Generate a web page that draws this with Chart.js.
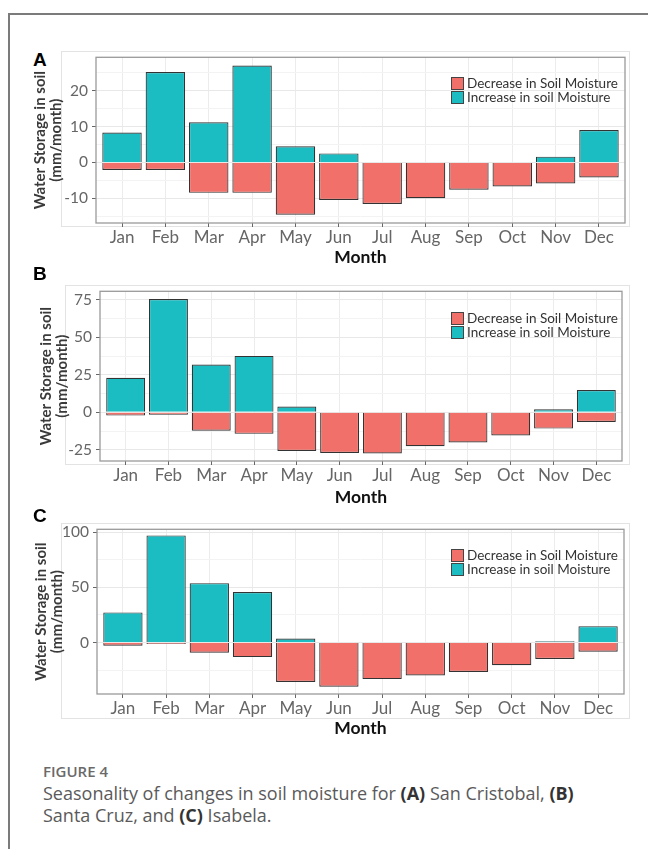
<!DOCTYPE html>
<html lang="en">
<head>
<meta charset="utf-8">
<title>Figure 4 - Seasonality of changes in soil moisture</title>
<script src="https://cdn.jsdelivr.net/npm/chart.js@4.4.1/dist/chart.umd.min.js"></script>
<style>
  html, body { margin: 0; padding: 0; background: #fff; }
  body { position: relative; width: 648px; height: 849px; overflow: hidden; font-family: Lato, "Open Sans", sans-serif; }
  .frame { position: absolute; left: 8px; top: 13px; width: 700px; height: 900px;
           border-left: 2px solid #7b7b7b; border-top: 2px solid #7b7b7b; }
  .imgbox { position: absolute; border: 1px solid #e3e3e3; box-sizing: border-box; }
  .letter { position: absolute; left: 33px; font: bold 19px "Liberation Sans", Arial, sans-serif; line-height: 1; color: #000; }
  .wrap { position: absolute; }
  .legend { position: absolute; font-size: 13.5px; line-height: 13px; color: #333; }
  .legend .row { display: flex; align-items: center; height: 13.5px; white-space: nowrap; }
  .legend .sw { width: 11px; height: 11px; border: 1px solid #444; margin-right: 3px; }
  .caption { position: absolute; left: 43px; top: 762px; font-family: "Open Sans", sans-serif; color: #5a5a5a; }
  .caption .fig { font-size: 15px; line-height: 18px; font-weight: 600; color: #6a6a6a; }
  .caption .txt { margin-top: 2px; font-size: 18px; line-height: 22px; }
  .caption b { color: #333; }
</style>
</head>
<body>
<div class="frame"></div>
<div id="figure"></div>
<div class="caption">
  <div class="fig">FIGURE 4</div>
  <div class="txt">Seasonality of changes in soil moisture for <b>(A)</b> San Cristobal, <b>(B)</b><br>Santa Cruz, and <b>(C)</b> Isabela.</div>
</div>
<script>
// =============================================================
// Data (mm/month)
// =============================================================
const months = ["Jan", "Feb", "Mar", "Apr", "May", "Jun", "Jul", "Aug", "Sep", "Oct", "Nov", "Dec"];
const seriesNames = ["Decrease in Soil Moisture", "Increase in soil Moisture"];
const seriesColors = ["#f1706a", "#1cbdc2"];

// (A) San Cristobal
const decreaseA = [-2.1, -2.1, -8.5, -8.5, -14.6, -10.5, -11.6, -10.0, -7.6, -6.7, -5.9, -4.2];
const increaseA = [8.3, 25.2, 11.2, 27.0, 4.5, 2.5, 0, 0, 0, 0, 1.6, 9.0];
const yTicksA = [-10, 0, 10, 20];

// (B) Santa Cruz
const decreaseB = [-2.2, -1.7, -12.3, -14.4, -25.8, -27.1, -27.5, -22.7, -20.1, -15.5, -10.9, -6.5];
const increaseB = [23.0, 75.5, 31.8, 37.6, 3.9, 0, 0, 0, 0, 0, 2.0, 14.8];
const yTicksB = [-25, 0, 25, 50, 75];

// (C) Isabela
const decreaseC = [-2.9, -1.2, -9.1, -13.1, -35.7, -39.9, -33.0, -29.8, -26.5, -20.5, -14.9, -8.3];
const increaseC = [27.3, 97.0, 53.8, 45.8, 3.6, 0, 0, 0, 0, 0, 1.2, 14.9];
const yTicksC = [0, 50, 100];

// =============================================================
// Panel layout (pixel positions of each plot panel on the page)
// =============================================================
const panels = [
  { letter: "A", dec: decreaseA, inc: increaseA, ticks: yTicksA, yMin: -16.9, yMax: 29.3,
    top: 54, bottom: 223, left: 96, right: 625, axisH: 45, titleX: 40, letterTop: 49.5,
    box: [61, 51, 630, 227], legendTop: 77 },
  { letter: "B", dec: decreaseB, inc: increaseB, ticks: yTicksB, yMin: -32.5, yMax: 80.7,
    top: 288, bottom: 461, left: 100, right: 622, axisH: 47, titleX: 46, letterTop: 264,
    box: [65, 285, 630, 465], legendTop: 312 },
  { letter: "C", dec: decreaseC, inc: increaseC, ticks: yTicksC, yMin: -46.5, yMax: 102.5,
    top: 526, bottom: 694, left: 97, right: 624, axisH: 45, titleX: 41, letterTop: 505.5,
    box: [61, 523, 630, 719], legendTop: 549 },
];

const WRAP_LEFT = 20;
const WRAP_RIGHT = 635;
const PAD_TOP = 10;
const TITLE_SIZE = 15;

Chart.defaults.font.family = "Lato, 'Open Sans', sans-serif";

// ggplot-style panel border drawn over the bars
const panelBorder = {
  id: "panelBorder",
  afterDatasetsDraw(chart) {
    const { ctx, chartArea: a } = chart;
    ctx.save();
    ctx.strokeStyle = "#9a9a9a";
    ctx.lineWidth = 1.3;
    ctx.strokeRect(a.left, a.top, a.right - a.left, a.bottom - a.top);
    ctx.restore();
  },
};

function addDiv(cls, css, parent) {
  const el = document.createElement("div");
  el.className = cls;
  Object.assign(el.style, css);
  (parent || document.getElementById("figure")).appendChild(el);
  return el;
}

function makePanel(p) {
  const [bl, bt, br, bb] = p.box;
  addDiv("imgbox", { left: bl + "px", top: bt + "px", width: br - bl + "px", height: bb - bt + "px" });
  addDiv("letter", { top: p.letterTop + "px" }).textContent = p.letter;

  const wrap = addDiv("wrap", {
    left: WRAP_LEFT + "px",
    top: p.top - PAD_TOP + "px",
    width: WRAP_RIGHT - WRAP_LEFT + "px",
    height: p.bottom + p.axisH - p.top + PAD_TOP + "px",
  });
  const canvas = document.createElement("canvas");
  wrap.appendChild(canvas);

  const minorStep = (p.ticks[1] - p.ticks[0]) / 2;
  const isMajor = (v) => p.ticks.includes(v);
  const series = [p.dec, p.inc];

  new Chart(canvas, {
    type: "bar",
    data: {
      datasets: series.map((vals, k) => ({
        label: seriesNames[k],
        data: vals.map((v, i) => ({ x: i + 1, y: v })),
        backgroundColor: seriesColors[k],
        borderColor: "#333",
        borderWidth: 1.2,
        borderSkipped: "start",
        barPercentage: 0.91,
        categoryPercentage: 1.0,
      })),
    },
    options: {
      responsive: true,
      maintainAspectRatio: false,
      animation: false,
      layout: { padding: { top: PAD_TOP, right: WRAP_RIGHT - p.right, bottom: 0, left: 0 } },
      plugins: { legend: { display: false }, tooltip: { enabled: false } },
      scales: {
        x: {
          type: "linear",
          min: 0.4,
          max: 12.6,
          stacked: true,
          offset: false,
          afterFit: (s) => { s.height = p.axisH; },
          ticks: {
            stepSize: 1,
            includeBounds: false,
            autoSkip: false,
            maxRotation: 0,
            padding: 0,
            color: "#666",
            font: { size: 17 },
            callback: (v) => months[v - 1] || "",
          },
          grid: { offset: false, color: "#ececec", tickColor: "#666", tickLength: 4 },
          border: { display: false },
          title: { display: true, text: "Month", color: "#111", padding: 0,
                   font: { size: 17.5, weight: "bold", lineHeight: 1.2 } },
        },
        y: {
          min: p.yMin,
          max: p.yMax,
          stacked: true,
          afterFit: (s) => { s.width = p.left - WRAP_LEFT; },
          ticks: {
            stepSize: minorStep,
            includeBounds: false,
            autoSkip: false,
            padding: 4,
            color: "#666",
            font: { size: 15.5 },
            callback: (v) => (isMajor(v) ? v : ""),
          },
          grid: {
            color: (c) => (c.tick && isMajor(c.tick.value) ? "#e8e8e8" : "#f3f3f3"),
            tickColor: (c) => (c.tick && isMajor(c.tick.value) ? "#666" : "rgba(0,0,0,0)"),
            tickLength: 4,
          },
          border: { display: false },
          title: {
            display: true,
            text: ["Water Storage in soil", "(mm/month)"],
            color: "#3a3a3a",
            font: { size: TITLE_SIZE, weight: "bold", lineHeight: 1.05 },
            padding: { top: p.titleX - WRAP_LEFT - TITLE_SIZE / 2, bottom: 0 },
          },
        },
      },
    },
    plugins: [panelBorder],
  });

  // legend inside the panel, top right
  const legend = addDiv("legend", { left: "451px", top: p.legendTop + "px" });
  seriesNames.forEach((name, k) => {
    const row = addDiv("row", {}, legend);
    addDiv("sw", { background: seriesColors[k] }, row);
    const t = document.createElement("span");
    t.textContent = name;
    row.appendChild(t);
  });
}

panels.forEach(makePanel);
</script>
</body>
</html>
